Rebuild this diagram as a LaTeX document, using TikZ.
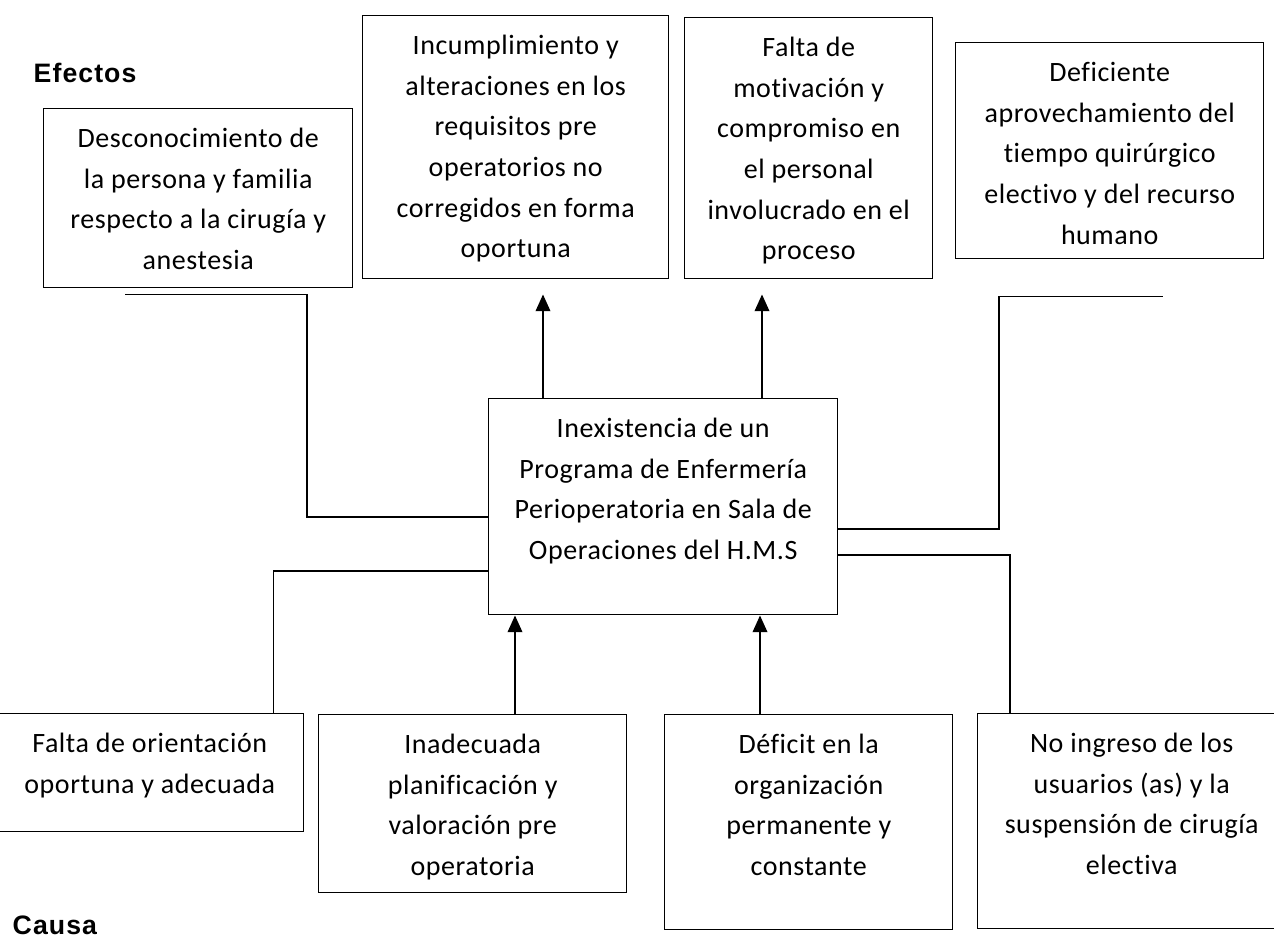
\documentclass[tikz,border=0pt]{standalone}
\usepackage{fontspec}
\setmainfont{Carlito}[Ligatures=NoCommon]
\newfontfamily\rotulofont{Liberation Sans}[LetterSpace=4]
\usetikzlibrary{arrows.meta,calc}

\newcommand{\cajatexto}[3]{\parbox[t][\dimexpr0.75pt*#2\relax][t]{\dimexpr0.75pt*#1\relax}{\centering\rule{0pt}{29pt}#3}}

\tikzset{every picture/.style={line width=1.1pt},
  caja/.style={draw, inner sep=0pt, anchor=north west, font=\fontsize{21pt}{30.5pt}\selectfont\addfontfeature{LetterSpace=2}},
  flecha/.style={-{Triangle[width=11pt,length=12.5pt]}},
  rotulo/.style={anchor=base west, inner sep=0pt, font=\rotulofont\fontsize{20pt}{24pt}\selectfont\bfseries}}

\begin{document}
\begin{tikzpicture}[x=0.75pt,y=0.75pt,yscale=-1,xscale=1]
\useasboundingbox (0,0) rectangle (1274,941);

% Text Node
\node[rotulo] (efectos) at (33,83) {Efectos};
\node[rotulo] (causa) at (12,934) {Causa};

%Shape: Rectangle (efectos)
\node[caja] (desconoc) at (43,108) {\cajatexto{309}{179}{Desconocimiento de\\ la persona y  familia\\ respecto a la cirugía y\\ anestesia}};
\node[caja] (incumpl) at (362,15) {\cajatexto{306}{263}{Incumplimiento y\\ alteraciones en los\\ requisitos pre\\ operatorios  no\\ corregidos en forma\\ oportuna}};
\node[caja] (motiv) at (684,17) {\cajatexto{248}{261}{Falta de\\ motivación y\\ compromiso en\\ el personal\\ involucrado en el\\ proceso}};
\node[caja] (aprovech) at (955,42) {\cajatexto{308}{216}{Deficiente\\ aprovechamiento del\\ tiempo quirúrgico\\ electivo y del recurso\\ humano}};

%Shape: Rectangle (problema)
\node[caja] (programa) at (488,398) {\cajatexto{349}{216}{Inexistencia de un\\ Programa de Enfermería\\ Perioperatoria en Sala de\\ Operaciones del H.M.S}};

%Shape: Rectangle (causas)
\node[caja] (orient) at (-5,713) {\cajatexto{308}{118}{Falta de orientación\\ oportuna y adecuada}};
\node[caja] (planif) at (318,714) {\cajatexto{308}{178}{Inadecuada\\ planificación y\\ valoración pre\\ operatoria}};
\node[caja] (organiz) at (664,714) {\cajatexto{288}{215}{Déficit en la\\ organización\\ permanente y\\ constante}};
\node[caja] (ingreso) at (977,713) {\cajatexto{308}{215}{No ingreso de los\\ usuarios (as) y la\\ suspensión de cirugía\\ electiva}};

%Straight Lines (efectos)
\coordinate (libreA) at ($(desconoc.south west)+(82,6)$);
\coordinate (libreD) at ($(aprovech.south west)+(208,37)$);
\draw (libreA) -| ($(programa.north west)+(-181,119)$) -- ($(programa.north west)+(0,119)$);
\draw ($(programa.north east)+(0,131)$) -| ($(libreD)+(-164,0)$) -- (libreD);
\draw[flecha] ($(programa.north west)+(55,0)$) -- ($(incumpl.south west)+(181,15)$);
\draw[flecha] ($(programa.north west)+(274,0)$) -- ($(motiv.south west)+(78,15)$);

%Straight Lines (causas)
\coordinate (salidaF) at ($(planif.north west)+(197,0)$);
\coordinate (salidaG) at ($(organiz.north west)+(96,0)$);
\draw ($(orient.north east)+(-31,0)$) |- ($(programa.north west)+(0,173)$);
\draw ($(programa.north east)+(0,157)$) -| ($(ingreso.north west)+(33,0)$);
\draw[flecha] (salidaF) -- (salidaF |- programa.south);
\draw[flecha] (salidaG) -- (salidaG |- programa.south);

\end{tikzpicture}
\end{document}
